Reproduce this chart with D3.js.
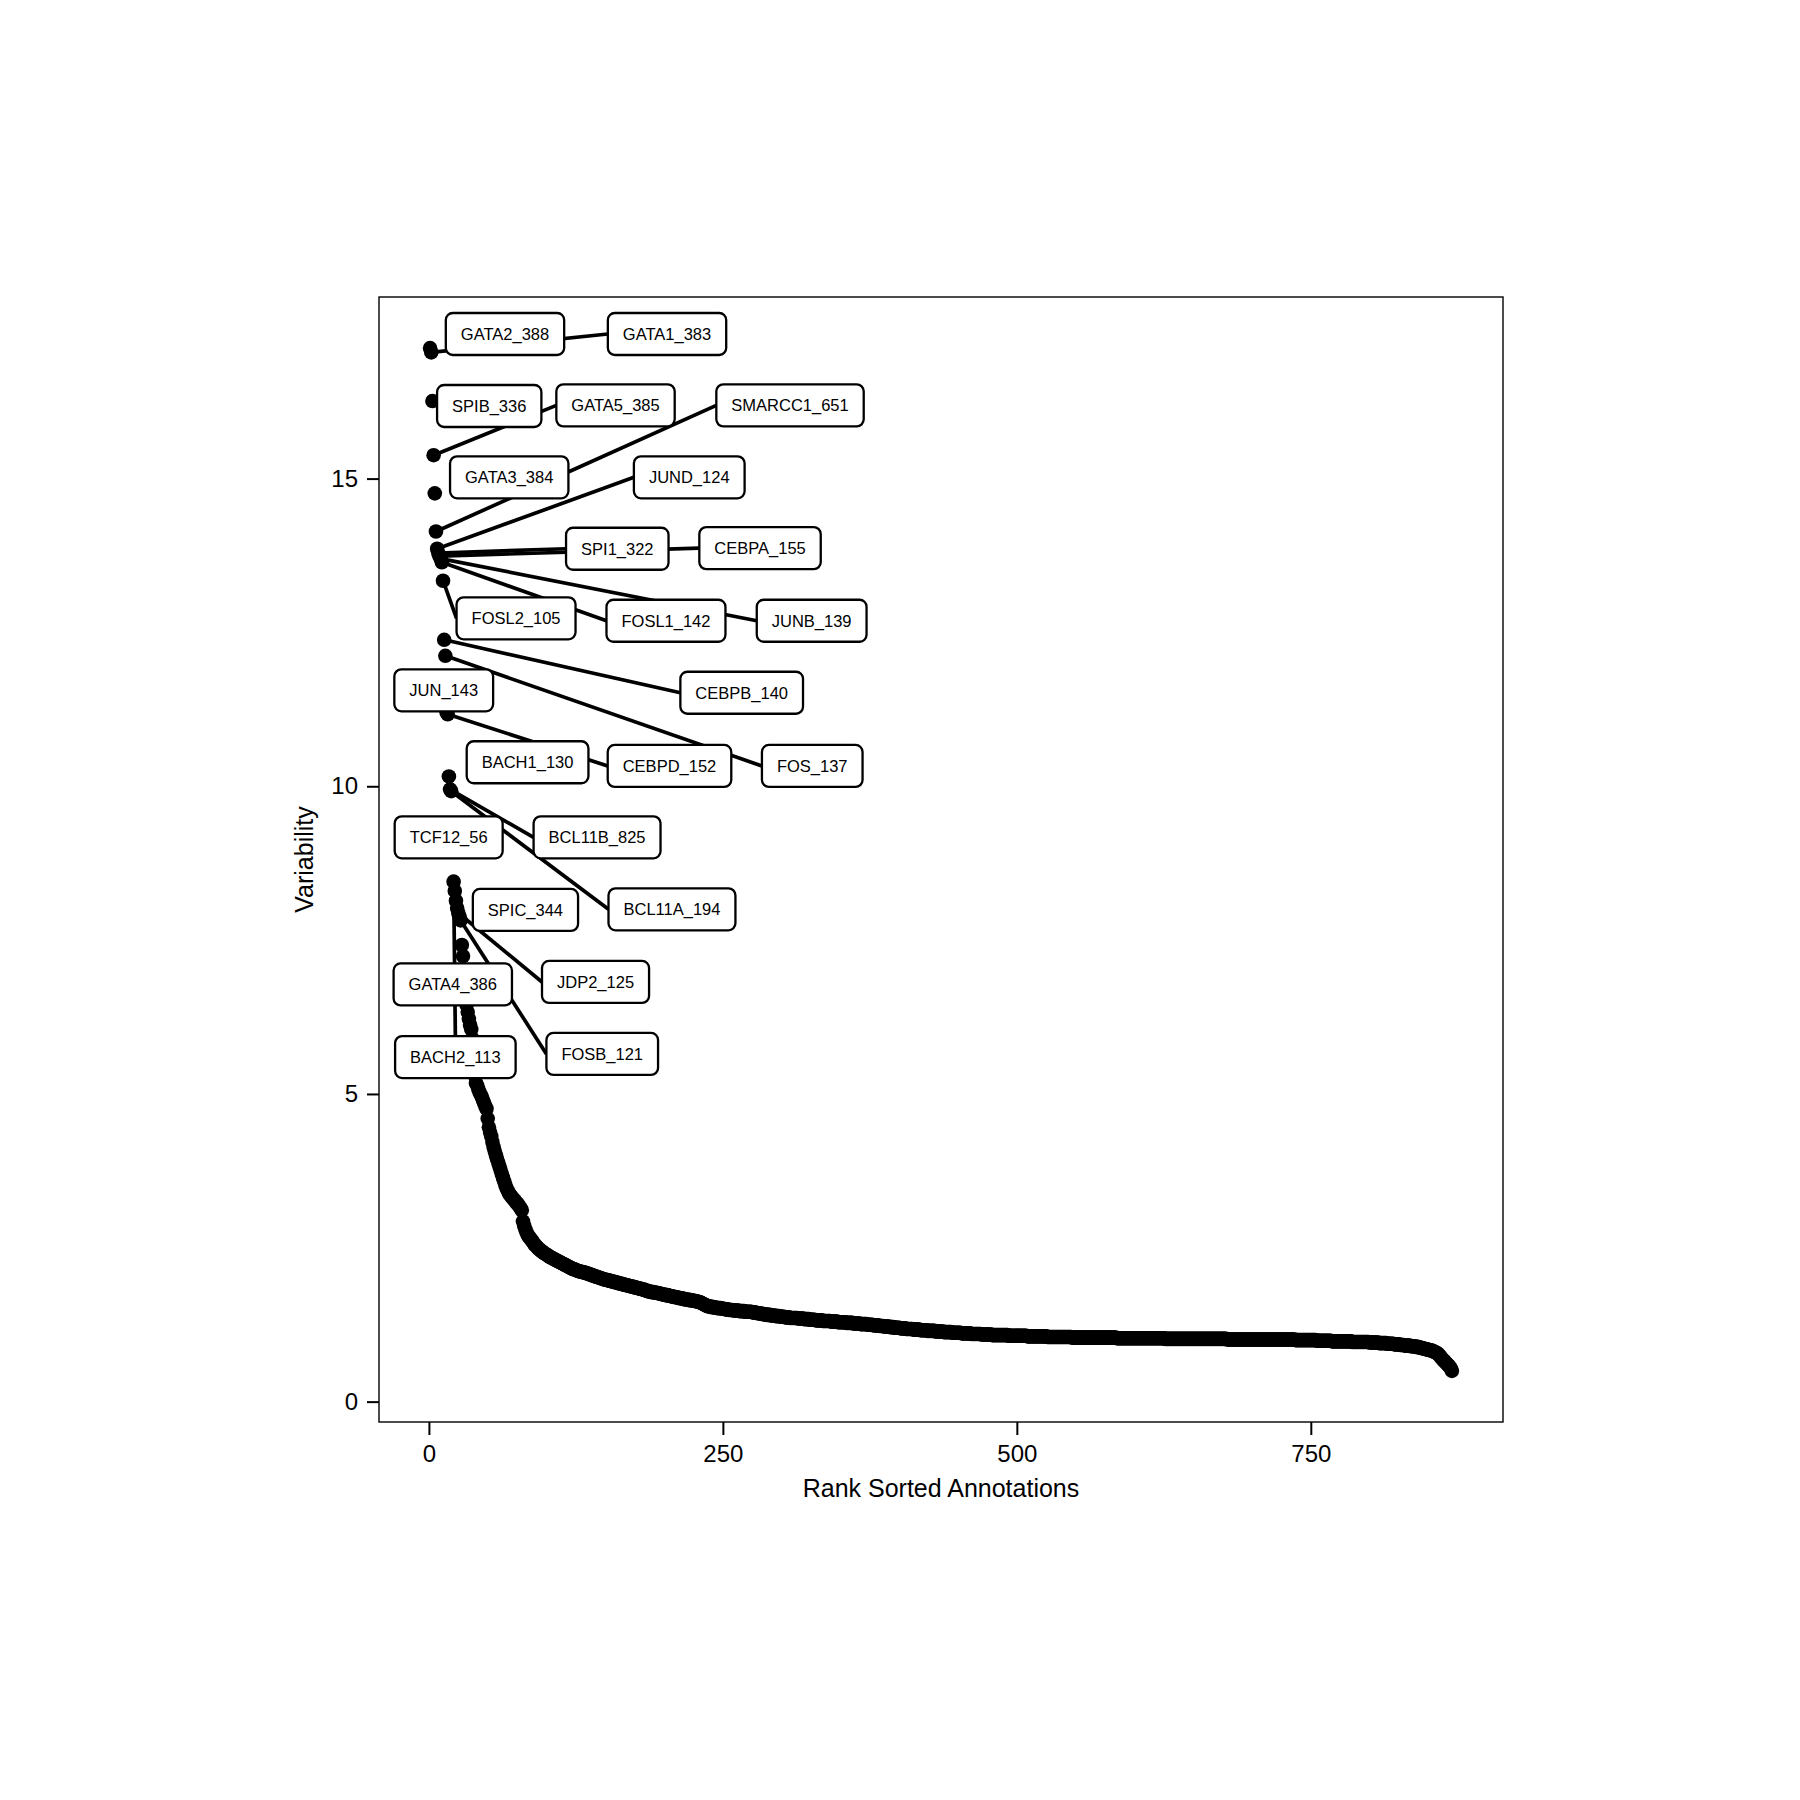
<!DOCTYPE html>
<html><head><meta charset="utf-8">
<script src="https://cdn.jsdelivr.net/npm/d3@7"></script>
<style>
body{margin:0;background:#fff;}
text{font-family:"Liberation Sans",Arial,Helvetica,sans-serif;fill:#000;}
</style>
</head><body>
<svg id="chart" width="1800" height="1800"></svg>
<script>
// Variability values, rank sorted (rank 1 .. 870)
const variability = [
17.12,17.05,16.26,15.38,14.76,14.14,13.86,13.79,13.74,13.70,
13.64,13.34,12.38,12.12,11.20,11.17,10.16,9.95,9.92,9.15,
8.45,8.30,8.14,8.02,7.94,7.88,7.82,7.42,7.24,6.90,
6.62,6.45,6.33,6.22,6.12,6.05,5.90,5.62,5.30,5.18,
5.14,5.08,5.03,4.99,4.95,4.90,4.85,4.80,4.76,4.60,
4.46,4.38,4.31,4.22,4.14,4.07,4.00,3.94,3.88,3.82,
3.76,3.70,3.64,3.58,3.52,3.47,3.43,3.39,3.36,3.34,
3.31,3.29,3.27,3.24,3.22,3.20,3.17,3.14,3.11,2.93,
2.86,2.80,2.75,2.71,2.68,2.66,2.63,2.61,2.58,2.55,
2.53,2.51,2.49,2.47,2.46,2.44,2.43,2.41,2.40,2.39,
2.38,2.36,2.35,2.34,2.33,2.32,2.31,2.30,2.29,2.28,
2.27,2.26,2.25,2.24,2.23,2.22,2.21,2.20,2.19,2.18,
2.17,2.16,2.15,2.15,2.14,2.13,2.12,2.12,2.11,2.11,
2.10,2.10,2.09,2.09,2.08,2.07,2.07,2.06,2.05,2.05,
2.04,2.03,2.03,2.02,2.01,2.01,2.00,1.99,1.99,1.98,
1.98,1.97,1.97,1.96,1.96,1.95,1.95,1.94,1.94,1.93,
1.93,1.92,1.92,1.91,1.91,1.90,1.90,1.89,1.89,1.88,
1.88,1.87,1.87,1.86,1.86,1.85,1.85,1.84,1.84,1.83,
1.83,1.82,1.82,1.81,1.80,1.80,1.79,1.79,1.78,1.78,
1.78,1.77,1.77,1.77,1.76,1.76,1.75,1.75,1.74,1.74,
1.73,1.73,1.73,1.72,1.72,1.71,1.71,1.70,1.70,1.70,
1.69,1.69,1.68,1.68,1.68,1.67,1.67,1.66,1.66,1.66,
1.65,1.65,1.65,1.64,1.64,1.64,1.63,1.63,1.62,1.62,
1.61,1.60,1.59,1.58,1.57,1.56,1.55,1.55,1.54,1.54,
1.54,1.53,1.53,1.53,1.52,1.52,1.52,1.52,1.51,1.51,
1.51,1.50,1.50,1.50,1.49,1.49,1.49,1.49,1.48,1.48,
1.48,1.48,1.48,1.47,1.47,1.47,1.47,1.47,1.46,1.46,
1.46,1.46,1.46,1.46,1.45,1.45,1.45,1.44,1.44,1.44,
1.43,1.43,1.43,1.42,1.42,1.42,1.41,1.41,1.41,1.41,
1.40,1.40,1.40,1.40,1.39,1.39,1.39,1.39,1.38,1.38,
1.38,1.38,1.37,1.37,1.37,1.37,1.36,1.36,1.36,1.36,
1.36,1.36,1.36,1.35,1.35,1.35,1.35,1.35,1.34,1.34,
1.34,1.34,1.34,1.33,1.33,1.33,1.33,1.33,1.32,1.32,
1.32,1.32,1.32,1.32,1.31,1.31,1.31,1.31,1.31,1.31,
1.31,1.30,1.30,1.30,1.30,1.30,1.30,1.29,1.29,1.29,
1.29,1.29,1.29,1.29,1.28,1.28,1.28,1.28,1.28,1.28,
1.27,1.27,1.27,1.27,1.27,1.27,1.26,1.26,1.26,1.26,
1.26,1.26,1.25,1.25,1.25,1.25,1.25,1.24,1.24,1.24,
1.24,1.24,1.23,1.23,1.23,1.23,1.22,1.22,1.22,1.22,
1.22,1.21,1.21,1.21,1.21,1.20,1.20,1.20,1.20,1.20,
1.19,1.19,1.19,1.19,1.19,1.18,1.18,1.18,1.18,1.18,
1.18,1.17,1.17,1.17,1.17,1.17,1.17,1.16,1.16,1.16,
1.16,1.16,1.16,1.15,1.15,1.15,1.15,1.15,1.15,1.15,
1.14,1.14,1.14,1.14,1.14,1.14,1.14,1.13,1.13,1.13,
1.13,1.13,1.13,1.13,1.12,1.12,1.12,1.12,1.12,1.12,
1.12,1.12,1.11,1.11,1.11,1.11,1.11,1.11,1.11,1.11,
1.10,1.10,1.10,1.10,1.10,1.10,1.10,1.10,1.10,1.09,
1.09,1.09,1.09,1.09,1.09,1.09,1.09,1.09,1.08,1.08,
1.08,1.08,1.08,1.08,1.08,1.08,1.08,1.08,1.08,1.08,
1.08,1.08,1.07,1.07,1.07,1.07,1.07,1.07,1.07,1.07,
1.07,1.07,1.07,1.07,1.07,1.07,1.07,1.07,1.06,1.06,
1.06,1.06,1.06,1.06,1.06,1.06,1.06,1.06,1.06,1.06,
1.06,1.06,1.06,1.06,1.06,1.05,1.05,1.05,1.05,1.05,
1.05,1.05,1.05,1.05,1.05,1.05,1.05,1.05,1.05,1.05,
1.05,1.05,1.05,1.05,1.05,1.05,1.04,1.04,1.04,1.04,
1.04,1.04,1.04,1.04,1.04,1.04,1.04,1.04,1.04,1.04,
1.04,1.04,1.04,1.04,1.04,1.04,1.04,1.04,1.04,1.04,
1.04,1.04,1.04,1.04,1.04,1.04,1.04,1.04,1.04,1.04,
1.04,1.04,1.04,1.04,1.03,1.03,1.03,1.03,1.03,1.03,
1.03,1.03,1.03,1.03,1.03,1.03,1.03,1.03,1.03,1.03,
1.03,1.03,1.03,1.03,1.03,1.03,1.03,1.03,1.03,1.03,
1.03,1.03,1.03,1.03,1.03,1.03,1.03,1.03,1.03,1.03,
1.03,1.03,1.03,1.03,1.03,1.02,1.02,1.02,1.02,1.02,
1.02,1.02,1.02,1.02,1.02,1.02,1.02,1.02,1.02,1.02,
1.02,1.02,1.02,1.02,1.02,1.02,1.02,1.02,1.02,1.02,
1.02,1.02,1.02,1.02,1.02,1.02,1.02,1.02,1.02,1.02,
1.02,1.02,1.02,1.02,1.02,1.02,1.02,1.02,1.02,1.02,
1.02,1.02,1.02,1.02,1.02,1.02,1.02,1.02,1.01,1.01,
1.01,1.01,1.01,1.01,1.01,1.01,1.01,1.01,1.01,1.01,
1.01,1.01,1.01,1.01,1.01,1.01,1.01,1.01,1.01,1.01,
1.01,1.01,1.01,1.01,1.01,1.01,1.01,1.01,1.01,1.01,
1.01,1.01,1.01,1.01,1.01,1.01,1.01,1.01,1.01,1.01,
1.01,1.01,1.01,1.01,1.01,1.01,1.01,1.01,1.01,1.01,
1.01,1.01,1.01,1.01,1.01,1.01,1.00,1.00,1.00,1.00,
1.00,1.00,1.00,1.00,1.00,1.00,1.00,1.00,1.00,1.00,
1.00,1.00,1.00,1.00,0.99,0.99,0.99,0.99,0.99,0.99,
0.99,0.99,0.99,0.99,0.99,0.99,0.99,0.98,0.98,0.98,
0.98,0.98,0.98,0.98,0.98,0.98,0.98,0.98,0.98,0.98,
0.98,0.98,0.98,0.98,0.97,0.97,0.97,0.97,0.97,0.97,
0.97,0.97,0.97,0.97,0.97,0.97,0.97,0.97,0.97,0.96,
0.96,0.96,0.96,0.96,0.96,0.96,0.96,0.95,0.95,0.95,
0.95,0.95,0.95,0.95,0.94,0.94,0.94,0.94,0.94,0.94,
0.93,0.93,0.93,0.93,0.93,0.92,0.92,0.92,0.92,0.91,
0.91,0.91,0.91,0.91,0.90,0.90,0.90,0.90,0.89,0.89,
0.89,0.88,0.88,0.87,0.87,0.86,0.86,0.85,0.85,0.84,
0.84,0.83,0.83,0.82,0.81,0.80,0.79,0.78,0.76,0.74,
0.71,0.69,0.67,0.65,0.63,0.61,0.59,0.57,0.54,0.50
];

// Labelled annotations: name, rank of its point, label centre (rank units, variability units)
const labelNames = ["GATA2_388","GATA1_383","SPIB_336","GATA5_385","GATA3_384","SMARCC1_651","JUND_124","SPI1_322","CEBPA_155","JUNB_139","FOSL1_142","FOSL2_105","CEBPB_140","FOS_137","JUN_143","CEBPD_152","BACH1_130","BCL11B_825","BCL11A_194","TCF12_56","BACH2_113","SPIC_344","JDP2_125","FOSB_121","GATA4_386"];
const labelRanks = [1,2,3,4,5,6,7,8,9,10,11,12,13,14,15,16,17,18,19,20,21,23,25,27,30];
const labelX = [64.7,202.5,51.3,158.7,68.3,307.1,221.4,160.2,281.6,325.5,201.6,74.1,266.0,326.0,12.6,204.6,83.9,143.0,206.7,16.8,22.5,82.1,141.7,147.4,20.3];
const labelY = [17.35,17.35,16.18,16.19,15.02,16.19,15.02,13.86,13.87,12.69,12.69,12.73,11.52,10.33,11.56,10.33,10.39,9.17,8.00,9.17,5.60,7.99,6.82,5.65,6.78];

const xTicks = [0,250,500,750];
const yTicks = [0,5,10,15];
const xTitle = "Rank Sorted Annotations";
const yTitle = "Variability";

const svg = d3.select("#chart");
const panel = {left:379, right:1503, top:297, bottom:1422};

const ranks = variability.map((v,i)=>i+1);
const xr = d3.extent(ranks), yr = d3.extent(variability);
const xPad = (xr[1]-xr[0])*0.05, yPad = (yr[1]-yr[0])*0.05;
const x = d3.scaleLinear().domain([xr[0]-xPad, xr[1]+xPad]).range([panel.left, panel.right]);
const y = d3.scaleLinear().domain([yr[0]-yPad, yr[1]+yPad]).range([panel.bottom, panel.top]);

// panel border
svg.append("rect").attr("x",panel.left).attr("y",panel.top)
  .attr("width",panel.right-panel.left).attr("height",panel.bottom-panel.top)
  .attr("fill","none").attr("stroke","#000").attr("stroke-width",1.4);

// axes
const xAxis = svg.append("g").attr("transform",`translate(0,${panel.bottom})`)
  .call(d3.axisBottom(x).tickValues(xTicks).tickSize(13).tickPadding(10).tickFormat(d3.format("d")));
const yAxis = svg.append("g").attr("transform",`translate(${panel.left},0)`)
  .call(d3.axisLeft(y).tickValues(yTicks).tickSize(12).tickPadding(9).tickFormat(d3.format("d")));
[xAxis,yAxis].forEach(a=>{
  a.select(".domain").remove();
  a.selectAll(".tick line").attr("stroke","#000").attr("stroke-width",2);
  a.selectAll(".tick text").attr("font-size",24).attr("fill","#000")
   .style("font-family",'"Liberation Sans",Arial,Helvetica,sans-serif');
});

svg.append("text").attr("x",(panel.left+panel.right)/2).attr("y",1497)
  .attr("text-anchor","middle").attr("font-size",25).text(xTitle);
svg.append("text").attr("transform",`translate(313,${(panel.top+panel.bottom)/2}) rotate(-90)`)
  .attr("text-anchor","middle").attr("font-size",25).text(yTitle);

// points
svg.append("g").selectAll("circle").data(variability).join("circle")
  .attr("cx",(d,i)=>x(i+1)).attr("cy",d=>y(d)).attr("r",7.3).attr("fill","#000");

const segG = svg.append("g");
const labG = svg.append("g");

const boxes = labelNames.map((name,i)=>{
  const cx = x(labelX[i]), cy = y(labelY[i]);
  const g = labG.append("g");
  const rect = g.append("rect");
  const t = g.append("text").attr("x",cx).attr("y",cy).attr("dy","0.35em")
    .attr("text-anchor","middle").attr("font-size",16.5).text(name);
  const w = t.node().getComputedTextLength() + 30, h = 42;
  rect.attr("x",cx-w/2).attr("y",cy-h/2).attr("width",w).attr("height",h)
    .attr("rx",7).attr("ry",7).attr("fill","#fff").attr("stroke","#000").attr("stroke-width",2.3);
  return {x1:cx-w/2, x2:cx+w/2, y1:cy-h/2, y2:cy+h/2, cx, cy};
});

labelRanks.forEach((r,i)=>{
  const px = x(r), py = y(variability[r-1]);
  const b = boxes[i];
  let ex, ey;
  if (px >= b.x1 && px <= b.x2 && py >= b.y1 && py <= b.y2) return;
  if (px < b.x1) { ex = b.x1; ey = b.cy; }
  else if (px > b.x2) { ex = b.x2; ey = b.cy; }
  else if (py < b.y1) { ex = b.cx; ey = b.y1; }
  else { ex = b.cx; ey = b.y2; }
  if (Math.hypot(ex-px, ey-py) < 25) return;
  segG.append("line").attr("x1",px).attr("y1",py).attr("x2",ex).attr("y2",ey)
    .attr("stroke","#000").attr("stroke-width",3.7);
});
</script>
</body></html>
